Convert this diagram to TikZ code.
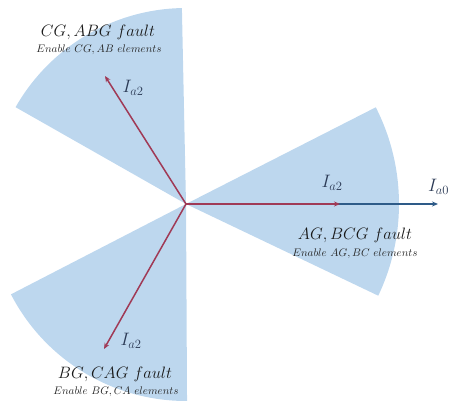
\RequirePackage{fix-cm}
\documentclass[tikz,border=0pt]{standalone}
\usetikzlibrary{arrows.meta}
\definecolor{secblue}{HTML}{BDD7EE}
\definecolor{vred}{HTML}{A03A56}
\definecolor{vblue}{HTML}{2E5B88}
\definecolor{lbl}{HTML}{2B3A55}
\begin{document}
\begin{tikzpicture}[x=1pt,y=1pt,
  sec/.style={fill=secblue},
  vec/.style={line width=1.5pt,-{Stealth[length=6pt,width=5pt]}},
  ilabel/.style={text=lbl,font=\fontsize{18}{20}\selectfont,inner sep=0pt},
  title/.style={text=black!90,font=\fontsize{16.5}{18}\selectfont,inner sep=0pt},
  sub/.style={text=black!85,font=\fontsize{11}{13}\selectfont,inner sep=0pt}]
\useasboundingbox (0,0) rectangle (451,402);
\coordinate (C) at (186,198);
% sectors
\fill[sec] (C) -- ++(-25.5:213) arc[start angle=-25.5,end angle=27,radius=213] -- cycle;
\fill[sec] (C) -- ++(91.2:196) arc[start angle=91.2,end angle=150.4,radius=196] -- cycle;
\fill[sec] (C) -- ++(207.3:197) arc[start angle=207.3,end angle=270.3,radius=197] -- cycle;
% vectors
\coordinate (A0) at (438,198);
\coordinate (A2r) at (340,198);
\coordinate (A2u) at (105,326);
\coordinate (A2l) at (104,53);
\draw[vec,vblue] (C) -- (A0);
\draw[vec,vred] (C) -- (A2r);
\draw[vec,vred] (C) -- (A2u);
\draw[vec,vred] (C) -- (A2l);
% vector labels
\node[ilabel] (l1) at (133,314) {$I_{a2}$};
\node[ilabel] (l2) at (332,219) {$I_{a2}$};
\node[ilabel,anchor=west] (l3) at (428,215) {$I_{a0}$};
\node[ilabel] (l4) at (131,61) {$I_{a2}$};
% sector titles
\node[title] (t1) at (98,370) {$CG,ABG\ fault$};
\node[sub] (s1) at (99,352) {$Enable\ CG,AB\ elements$};
\node[title] (t2) at (355,167) {$AG,BCG\ fault$};
\node[sub] (s2) at (355,148) {$Enable\ AG,BC\ elements$};
\node[title] (t3) at (115,28) {$BG,CAG\ fault$};
\node[sub] (s3) at (116,10) {$Enable\ BG,CA\ elements$};
\end{tikzpicture}
\end{document}
